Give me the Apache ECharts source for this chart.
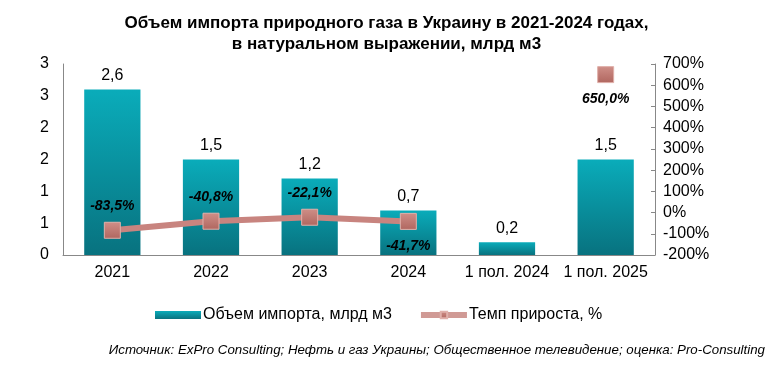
<!DOCTYPE html>
<html><head><meta charset="utf-8">
<script src="https://cdn.jsdelivr.net/npm/echarts@6/dist/echarts.min.js"></script>
<style>html,body{margin:0;padding:0;background:#fff}#c{width:773px;height:367px}</style>
</head><body><div id="c"></div>
<script>
const categories = ['2021', '2022', '2023', '2024', '1 пол. 2024', '1 пол. 2025'];
const importVolume = [2.6, 1.5, 1.2, 0.7, 0.2, 1.5];
const growthRate = [-83.5, -40.8, -22.1, -41.7, null, 650.0];
const growthLabelPos = ['top', 'top', 'top', 'bottom', 'top', 'bottom'];
const leftTickLabels = ['0', '1', '1', '2', '2', '3', '3'];
const rightTickLabels = ['-200%', '-100%', '0%', '100%', '200%', '300%', '400%', '500%', '600%', '700%'];

const fmt = v => v.toFixed(1).replace('.', ',');
const chart = echarts.init(document.getElementById('c'));
const FONT = 'Liberation Sans, Arial, sans-serif';

chart.setOption({
  animation: false,
  title: {
    text: 'Объем импорта природного газа в Украину в 2021-2024 годах,\nв натуральном выражении, млрд м3',
    left: 'center', top: 8,
    textStyle: { fontFamily: FONT, fontWeight: 'bold', fontSize: 17, lineHeight: 21, color: '#000' }
  },
  graphic: [{
    type: 'text', right: 8, top: 344,
    style: { text: 'Источник: ExPro Consulting; Нефть и газ Украины; Общественное телевидение; оценка: Pro-Consulting',
      font: 'italic 13.3px ' + FONT, fill: '#000' }
  }],
  legend: {
    top: 302, left: 150, itemGap: 26, itemWidth: 46, itemHeight: 8,
    textStyle: { fontFamily: FONT, fontSize: 16, color: '#000', padding: [0, 0, 0, -3] },
    data: [
      { name: 'Объем импорта, млрд м3', icon: 'rect' },
      { name: 'Темп прироста, %', lineStyle: { width: 6, color: '#d09a95' } }
    ]
  },
  grid: { left: 63, right: 118, top: 64, bottom: 112 },
  xAxis: {
    type: 'category', data: categories,
    axisLine: { lineStyle: { color: '#888' } },
    axisTick: { show: false },
    axisLabel: { interval: 0, fontFamily: FONT, fontSize: 16, color: '#000', margin: 10 }
  },
  yAxis: [{
    type: 'value', min: 0, max: 3, interval: 0.5,
    splitLine: { show: false },
    axisLine: { show: true, lineStyle: { color: '#888' } },
    axisTick: { show: false },
    axisLabel: { fontFamily: FONT, fontSize: 16, color: '#000', margin: 14,
      formatter: (v) => leftTickLabels[Math.round(v / 0.5)] }
  }, {
    type: 'value', min: -200, max: 700, interval: 100,
    splitLine: { show: false },
    axisLine: { show: true, lineStyle: { color: '#888' } },
    axisTick: { show: true, inside: true, length: 4, lineStyle: { color: '#888' } },
    axisLabel: { fontFamily: FONT, fontSize: 16, color: '#000', margin: 8,
      formatter: (v) => rightTickLabels[Math.round((v + 200) / 100)] }
  }],
  series: [{
    name: 'Объем импорта, млрд м3', type: 'bar', barWidth: '57%', yAxisIndex: 0,
    data: importVolume,
    itemStyle: {
      color: new echarts.graphic.LinearGradient(0, 0, 0, 1, [
        { offset: 0, color: '#0aacba' }, { offset: 1, color: '#08727f' }
      ])
    },
    label: { show: true, position: 'top', distance: 6, fontFamily: FONT, fontSize: 16, color: '#000',
      formatter: p => fmt(p.value) }
  }, {
    name: 'Темп прироста, %', type: 'line', yAxisIndex: 1,
    connectNulls: false,
    data: growthRate.map((v, i) => ({ value: v, label: { position: growthLabelPos[i] } })),
    lineStyle: { color: '#c8847f', width: 6 },
    symbol: 'rect', symbolSize: 16, showSymbol: true,
    itemStyle: {
      color: new echarts.graphic.LinearGradient(0, 0, 0, 1, [
        { offset: 0, color: '#cf8f88' }, { offset: 1, color: '#b0665f' }
      ]),
      borderColor: '#e0b0aa', borderWidth: 1
    },
    label: { show: true, distance: 9, fontFamily: FONT, fontSize: 14, fontWeight: 'bold', fontStyle: 'italic', color: '#000',
      formatter: p => p.value == null ? '' : fmt(p.value) + '%' }
  }]
});
</script></body></html>
